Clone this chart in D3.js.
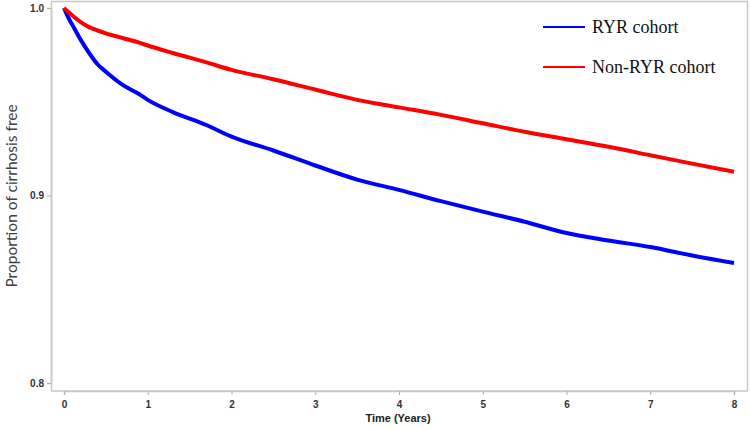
<!DOCTYPE html>
<html><head><meta charset="utf-8">
<script src="https://cdn.jsdelivr.net/npm/d3@7"></script>
<style>body{margin:0;background:#fff}svg{display:block}</style>
</head><body><svg id="c" width="750" height="430"></svg>
<script>
const times = [0,0.05,0.1,0.2,0.3,0.4,0.5,0.7,0.9,1.0,1.3,1.7,2.0,2.5,3.0,3.5,4.0,4.5,5.0,5.5,6.0,6.5,7.0,7.5,8.0];
const ryr =    [1.0,0.995,0.991,0.983,0.976,0.970,0.966,0.959,0.954,0.951,0.9445,0.9376,0.9314,0.924,0.916,0.9085,0.903,0.897,0.8914,0.886,0.880,0.876,0.8725,0.868,0.864];
const nonRyr = [1.0,0.998,0.996,0.9925,0.9898,0.988,0.9865,0.9840,0.9815,0.980,0.976,0.971,0.967,0.962,0.9565,0.951,0.947,0.943,0.9385,0.934,0.930,0.926,0.9215,0.917,0.9127];
const xTicks = [0,1,2,3,4,5,6,7,8];
const yTicks = [0.8,0.9,1.0];
const seriesNames = ["RYR cohort","Non-RYR cohort"];
const seriesColors = ["#0000ff","#ff0000"];

const svg = d3.select("#c");
const x = d3.scaleLinear().domain([0,8]).range([64,734]);
const y = d3.scaleLinear().domain([0.8,1.0]).range([383,8]);

// frame
svg.append("rect").attr("x",51.5).attr("y",1.5).attr("width",696).attr("height",389.5)
  .attr("fill","none").attr("stroke","#c8c8c8").attr("stroke-width",1.5);

const tickFont = "'Liberation Sans Narrow','Arial Narrow','Liberation Sans',sans-serif";
const xAxis = svg.append("g").attr("transform","translate(0,391)")
  .call(d3.axisBottom(x).tickValues(xTicks).tickFormat(d3.format("d")).tickSize(4).tickPadding(6));
xAxis.select(".domain").attr("stroke","#c8c8c8").attr("stroke-width",1.5);
xAxis.selectAll(".tick line").attr("stroke","#b0b0b0");
xAxis.selectAll(".tick text").attr("fill","#333").style("font-family",tickFont).style("font-weight","bold").style("font-size","10px");

const yAxis = svg.append("g").attr("transform","translate(51,0)")
  .call(d3.axisLeft(y).tickValues(yTicks).tickFormat(d3.format(".1f")).tickSize(4).tickPadding(3));
yAxis.select(".domain").attr("stroke","#c8c8c8").attr("stroke-width",1.5);
yAxis.selectAll(".tick line").attr("stroke","#b0b0b0");
yAxis.selectAll(".tick text").attr("fill","#333").style("font-family",tickFont).style("font-weight","bold").style("font-size","10px");

svg.append("text").attr("x",398).attr("y",422).attr("text-anchor","middle")
  .style("font-family",tickFont).style("font-weight","bold").style("font-size","11px").attr("fill","#222")
  .text("Time (Years)");

svg.append("text").attr("transform","translate(17,196) rotate(-90)").attr("text-anchor","middle")
  .style("font-family","Lato,'Open Sans',sans-serif").style("font-size","15.5px").attr("fill","#404040")
  .text("Proportion of cirrhosis free");

const line = d3.line().x(d=>x(d[0])).y(d=>y(d[1])).curve(d3.curveMonotoneX);
[ryr,nonRyr].forEach((vals,i)=>{
  svg.append("path").datum(times.map((t,j)=>[t,vals[j]]))
    .attr("d",line).attr("fill","none").attr("stroke",seriesColors[i]).attr("stroke-width",4);
});

// legend
const leg = svg.append("g");
seriesNames.forEach((n,i)=>{
  const yy = 27 + i*40;
  leg.append("line").attr("x1",543).attr("x2",585).attr("y1",yy).attr("y2",yy)
    .attr("stroke",seriesColors[i]).attr("stroke-width",2);
  leg.append("text").attr("x",592).attr("y",yy+6).text(n)
    .style("font-family","'Liberation Serif','DejaVu Serif',serif").style("font-size","18px").attr("fill","#111");
});
</script></body></html>
